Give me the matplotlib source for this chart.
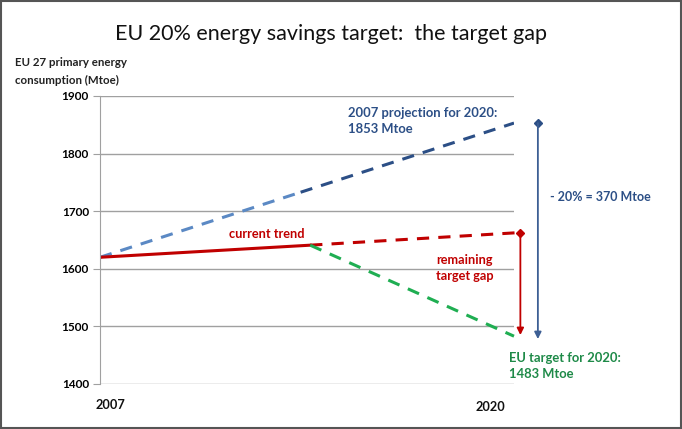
import matplotlib.pyplot as plt
from matplotlib.patches import Rectangle

plt.rcParams['font.family'] = ['Lato', 'DejaVu Sans']

# values
start_year, start_val = 2007, 1620
trend_year, trend_val = 2013.6, 1641
target_year = 2020
proj_2020 = 1853
trend_2020 = 1663
target_2020 = 1483
proj_split_year = 2013.3  # where the projection line turns darker
proj_split_val = start_val + (proj_2020 - start_val) * (proj_split_year - start_year) / (target_year - start_year)

yticks = [1400, 1500, 1600, 1700, 1800, 1900]

RED = '#c00000'
BLUE_L = '#5b89c4'
BLUE_D = '#2c4f86'
GREEN = '#1fae52'
GREEN_T = '#1e8a48'
GRID = '#a0a0a0'

fig = plt.figure(figsize=(6.82, 4.29), dpi=100)
ax = fig.add_axes([100/682, 1 - 384/429, 414/682, 288/429])

ax.set_xlim(2007, 2020)
ax.set_ylim(1400, 1900)
ax.set_yticks(yticks)
ax.set_yticklabels([str(v) for v in yticks], fontweight='bold', fontsize=8.5)
ax.set_xticks([])
ax.tick_params(axis='y', length=5, color=GRID, pad=3)
for s in ['top', 'right', 'bottom']:
    ax.spines[s].set_visible(False)
ax.spines['left'].set_color(GRID)
ax.yaxis.grid(True, color=GRID, lw=1)
ax.set_axisbelow(True)

# 2007 projection line (light then dark)
ax.plot([start_year, proj_split_year], [start_val, proj_split_val],
        color=BLUE_L, lw=2.2, dashes=(4, 3))
ax.plot([proj_split_year, target_year], [proj_split_val, proj_2020],
        color=BLUE_D, lw=2.2, dashes=(4, 3))

# current trend
ax.plot([start_year, trend_year], [start_val, trend_val], color=RED, lw=2.2)
ax.plot([trend_year, 2020.2], [trend_val, trend_2020], color=RED, lw=2.2,
        dashes=(4, 3), clip_on=False)

# target path
ax.plot([trend_year, target_year], [trend_val, target_2020], color=GREEN,
        lw=2.2, dashes=(4, 3), clip_on=False)

# remaining gap arrow
ax.plot([2020.2], [trend_2020], marker='D', ms=4, color=RED, clip_on=False)
ax.annotate('', xy=(2020.2, target_2020 + 2), xytext=(2020.2, trend_2020),
            arrowprops=dict(arrowstyle='-|>', color=RED, lw=1.3,
                            mutation_scale=10, shrinkA=0, shrinkB=0),
            annotation_clip=False)

# -20% arrow
ax.plot([2020.75], [proj_2020], marker='D', ms=4, color=BLUE_D, clip_on=False)
ax.annotate('', xy=(2020.75, target_2020 - 5), xytext=(2020.75, proj_2020),
            arrowprops=dict(arrowstyle='-|>', color='#3d5f94', lw=1.3,
                            mutation_scale=10, shrinkA=0, shrinkB=0),
            annotation_clip=False)

# texts
fig.text(331/682, 1 - 34/429, 'EU 20% energy savings target:  the target gap',
         ha='center', va='center', fontsize=15.5, color='#111111')
fig.text(15/682, 1 - 62/429, 'EU 27 primary energy', ha='left', va='center',
         fontsize=8.3, fontweight='bold', color='#222222')
fig.text(15/682, 1 - 80/429, 'consumption (Mtoe)', ha='left', va='center',
         fontsize=8.3, fontweight='bold', color='#222222')

fig.text(348/682, 1 - 121/429, '2007 projection for 2020:\n1853 Mtoe',
         ha='left', va='center', fontsize=9.4, fontweight='bold', color=BLUE_D,
         linespacing=1.4)
fig.text(550/682, 1 - 197/429, '- 20% = 370 Mtoe', ha='left', va='center',
         fontsize=9, fontweight='bold', color=BLUE_D)
fig.text(229/682, 1 - 234/429, 'current trend', ha='left', va='center',
         fontsize=9.2, fontweight='bold', color=RED)
fig.text(436/682, 1 - 268/429, 'remaining\ntarget gap', ha='left', va='center',
         fontsize=9.2, fontweight='bold', color=RED, linespacing=1.4)
fig.text(509/682, 1 - 366/429, 'EU target for 2020:\n1483 Mtoe', ha='left',
         va='center', fontsize=9.4, fontweight='bold', color=GREEN_T,
         linespacing=1.4)

fig.text(96/682, 1 - 405/429, '2007', ha='left', va='center', fontsize=9.2,
         fontweight='bold', color='#111111')
fig.text(505/682, 1 - 407/429, '2020', ha='right', va='center', fontsize=9.2,
         fontweight='bold', color='#111111')

# outer frame
fig.patches.append(Rectangle((0.002, 0.003), 0.996, 0.994, transform=fig.transFigure,
                             fill=False, edgecolor='#555555', lw=1.5))

fig.savefig('out.png', dpi=100)
